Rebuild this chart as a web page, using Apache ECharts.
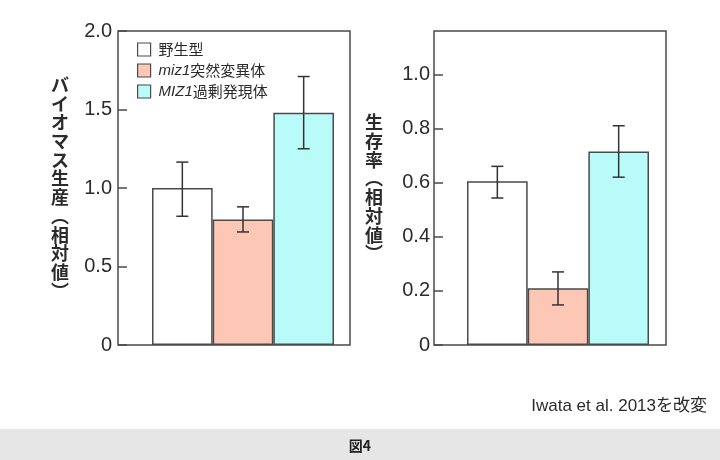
<!DOCTYPE html>
<html>
<head>
<meta charset="utf-8">
<script src="https://cdn.jsdelivr.net/npm/echarts@6/dist/echarts.min.js"></script>
<style>
html,body{margin:0;padding:0;background:#fff;}
#chart{width:720px;height:460px;}
</style>
</head>
<body>
<div id="chart"></div>
<script>
// ---- data ----
var categories = ['野生型', 'miz1突然変異体', 'MIZ1過剰発現体'];
var biomass = [1.0, 0.8, 1.48];
var biomassLow = [0.82, 0.72, 1.25];
var biomassHigh = [1.165, 0.88, 1.71];
var survival = [0.605, 0.21, 0.715];
var survivalLow = [0.543, 0.148, 0.62];
var survivalHigh = [0.66, 0.27, 0.81];
var biomassAxis = {min: 0, max: 2.0, interval: 0.5};
var survivalAxis = {min: 0, max: 1.16, interval: 0.2};
var biomassName = ['バ','イ','オ','マ','ス','生','産','︵','相','対','値','︶'];
var survivalName = ['生','存','率','︵','相','対','値','︶'];
var sourceText = 'Iwata et al. 2013を改変';
var figLabel = '図4';

// ---- styles ----
var colors = ['#ffffff', '#fcc7b4', '#b9fbf9'];
var edge = '#4a4a4a';
var txt = '#2b2b2b';
var numFont = 'Liberation Sans, Arial, sans-serif';
var cjkFont = 'Noto Sans CJK JP, Liberation Sans, sans-serif';

var chart = echarts.init(document.getElementById('chart'), null, {renderer: 'canvas'});

function barSeries(values, xIdx, yIdx, stack) {
  return categories.map(function (name, i) {
    return {
      name: name,
      type: 'bar',
      xAxisIndex: xIdx,
      yAxisIndex: yIdx,
      stack: stack,
      barWidth: '100%',
      data: values.map(function (v, j) { return j === i ? v : '-'; }),
      itemStyle: {color: colors[i], borderColor: edge, borderWidth: 1.5},
      emphasis: {disabled: true},
      z: 2
    };
  });
}

function errSeries(low, high, xIdx, yIdx) {
  return {
    type: 'custom',
    xAxisIndex: xIdx,
    yAxisIndex: yIdx,
    z: 5,
    silent: true,
    data: low.map(function (l, i) { return [i, l, high[i]]; }),
    renderItem: function (params, api) {
      var lo = api.coord([api.value(0), api.value(1)]);
      var hi = api.coord([api.value(0), api.value(2)]);
      var w = 6;
      var st = {stroke: '#333', lineWidth: 1.5};
      return {
        type: 'group',
        children: [
          {type: 'line', shape: {x1: lo[0], y1: lo[1], x2: hi[0], y2: hi[1]}, style: st},
          {type: 'line', shape: {x1: lo[0] - w, y1: lo[1], x2: lo[0] + w, y2: lo[1]}, style: st},
          {type: 'line', shape: {x1: hi[0] - w, y1: hi[1], x2: hi[0] + w, y2: hi[1]}, style: st}
        ]
      };
    }
  };
}

function fmtNum(v) { return v === 0 ? '0' : v.toFixed(1); }

function frameY(gridIndex, ax, name, margin, gap) {
  var n = ax.max / ax.interval;
  return {
    type: 'value', gridIndex: gridIndex,
    min: ax.min, max: ax.max, interval: ax.interval,
    axisLine: {show: false},
    axisTick: {show: true, inside: true, length: 9, lineStyle: {color: edge, width: 1.5}},
    splitLine: {show: false},
    axisLabel: {show: true, margin: margin, formatter: fmtNum,
      showMaxLabel: Math.abs(n - Math.round(n)) < 1e-9,
      color: txt, fontSize: 20, fontFamily: numFont},
    name: name.join('\n'),
    nameLocation: 'middle',
    nameRotate: 0,
    nameGap: gap,
    nameTextStyle: {color: txt, fontSize: 18, lineHeight: 18.7, fontWeight: 'bold', fontFamily: cjkFont, align: 'center', padding: [12, 0, 0, 0]}
  };
}
function hiddenY(gridIndex, ax) {
  return {type: 'value', gridIndex: gridIndex, min: ax.min, max: ax.max, show: false};
}

var legendRich = {
  i: {fontStyle: 'italic', fontFamily: numFont, fontSize: 15, lineHeight: 15, color: txt, verticalAlign: 'middle'},
  n: {fontFamily: cjkFont, fontSize: 15, lineHeight: 15, color: txt, verticalAlign: 'middle'}
};

var option = {
  animation: false,
  backgroundColor: '#ffffff',
  grid: [
    {left: 118, top: 31, width: 232, height: 314, show: true, borderColor: edge, borderWidth: 1.5, backgroundColor: 'transparent'},
    {left: 152, top: 31, width: 182, height: 314, show: false},
    {left: 434, top: 31, width: 232, height: 314, show: true, borderColor: edge, borderWidth: 1.5, backgroundColor: 'transparent'},
    {left: 467, top: 31, width: 182, height: 314, show: false}
  ],
  xAxis: [
    {type: 'category', gridIndex: 0, data: [''], show: false},
    {type: 'category', gridIndex: 1, data: categories, show: false, boundaryGap: true},
    {type: 'category', gridIndex: 2, data: [''], show: false},
    {type: 'category', gridIndex: 3, data: categories, show: false, boundaryGap: true}
  ],
  yAxis: [
    frameY(0, biomassAxis, biomassName, 6, 58),
    hiddenY(1, biomassAxis),
    frameY(2, survivalAxis, survivalName, 4, 60),
    hiddenY(3, survivalAxis)
  ],
  legend: {
    data: categories,
    orient: 'vertical',
    left: 137, top: 42,
    padding: 0,
    itemWidth: 13, itemHeight: 13, itemGap: 6,
    icon: 'rect',
    selectedMode: false,
    itemStyle: {borderColor: edge, borderWidth: 1.2},
    textStyle: {color: txt, fontSize: 15, lineHeight: 15, padding: [0, 0, 0, 3], rich: legendRich},
    formatter: function (name) {
      var m = name.match(/^([A-Za-z0-9]+)(.*)$/);
      if (m) return '{i|' + m[1] + '}{n|' + m[2] + '}';
      return '{n|' + name + '}';
    }
  },
  series: [].concat(
    barSeries(biomass, 1, 1, 'L'),
    [errSeries(biomassLow, biomassHigh, 1, 1)],
    barSeries(survival, 3, 3, 'R'),
    [errSeries(survivalLow, survivalHigh, 3, 3)]
  ),
  graphic: [
    {type: 'rect', left: 0, top: 429, shape: {width: 720, height: 31}, style: {fill: '#e6e6e6'}, silent: true},
    {type: 'text', left: 'center', top: 439, style: {text: figLabel, fill: '#222', font: 'bold 14px ' + cjkFont}},
    {type: 'text', right: 13, top: 398, style: {text: sourceText, fill: txt, fontSize: 17, fontFamily: 'Liberation Sans, Noto Sans CJK JP, sans-serif'}}
  ]
};
chart.setOption(option);
</script>
</body>
</html>
